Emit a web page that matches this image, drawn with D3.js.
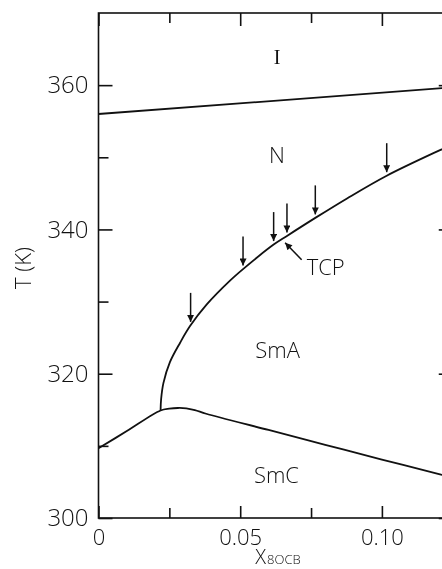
<!DOCTYPE html>
<html>
<head>
<meta charset="utf-8">
<script src="https://cdn.jsdelivr.net/npm/d3@7/dist/d3.min.js"></script>
<style>
  html, body { margin: 0; padding: 0; background: #fff; }
  svg { display: block; transform: translateZ(0); will-change: transform; }
  text { font-family: "Open Sans", "DejaVu Sans", sans-serif; font-weight: 300; fill: #111; }
</style>
</head>
<body>
<svg id="chart" width="442" height="569"></svg>
<script>
// Phase boundaries: temperature (K) against 8OCB mole fraction
const niX = [0, 0.125];
const niT = [356.0, 359.7];

const naX = [0.0219, 0.0221, 0.0229, 0.0252, 0.0288, 0.0323, 0.0382, 0.0464, 0.051, 0.0618, 0.0665, 0.0765, 0.0877, 0.1017, 0.1205, 0.125];
const naT = [314.9, 316.5, 318.7, 321.6, 324.3, 326.6, 329.6, 332.9, 334.5, 337.9, 339.1, 341.6, 344.3, 347.45, 351.0, 351.8];

const acX = [0, 0.01, 0.0219, 0.025, 0.028, 0.031, 0.034, 0.038, 0.06, 0.08, 0.10, 0.1205, 0.125];
const acT = [309.66, 312.05, 314.9, 315.15, 315.25, 315.2, 314.95, 314.45, 312.2, 310.15, 308.1, 306.05, 305.6];

// Measured compositions marked by arrows on the N–SmA boundary
const arrowX = [0.0325, 0.051, 0.0618, 0.0665, 0.0765, 0.1017];
const arrowT = [326.7, 334.5, 337.9, 339.1, 341.6, 347.45];

// Tricritical point
const tcpX = 0.0655;
const tcpT = 338.85;

// Phase labels
const phaseNames = ["I", "N", "SmA", "SmC"];
const phaseX = [0.063, 0.063, 0.0632, 0.0628];
const phaseT = [363.9, 350.3, 323.3, 305.9];

// Axis ticks
const xMajor = [0, 0.05, 0.10];
const xMajorLabels = ["0", "0.05", "0.10"];
const xMinor = [0.025, 0.075];
const yMajor = [300, 320, 340, 360];
const yMinor = [310, 330, 350];

const svg = d3.select("#chart");
const plotLeft = 98.5, plotRight = 452.75, plotTop = 13, plotBottom = 518;

const x = d3.scaleLinear().domain([0, 0.125]).range([plotLeft, plotRight]);
const y = d3.scaleLinear().domain([300, 370]).range([plotBottom, plotTop]);

const stroke = "#111";

// Frame
svg.append("rect")
  .attr("x", plotLeft).attr("y", plotTop)
  .attr("width", plotRight - plotLeft).attr("height", plotBottom - plotTop)
  .attr("fill", "none").attr("stroke", stroke).attr("stroke-width", 1.6);

function styleAxis(g) {
  g.select(".domain").remove();
  g.selectAll(".tick line").attr("stroke", stroke).attr("stroke-width", 1.6);
}

// Bottom axis with labels
svg.append("g").attr("transform", `translate(0,${plotBottom})`)
  .call(d3.axisBottom(x).tickValues(xMajor).tickFormat((d, i) => xMajorLabels[i])
    .tickSizeInner(-12).tickSizeOuter(0).tickPadding(11))
  .call(styleAxis)
  .call(g => g.selectAll("text").attr("font-size", 22).attr("font-family", null).attr("fill", "#111"));
svg.append("g").attr("transform", `translate(0,${plotBottom})`)
  .call(d3.axisBottom(x).tickValues(xMinor).tickFormat("").tickSizeInner(-10).tickSizeOuter(0))
  .call(styleAxis);

// Top axis
svg.append("g").attr("transform", `translate(0,${plotTop})`)
  .call(d3.axisTop(x).tickValues(xMajor).tickFormat("").tickSizeInner(-13).tickSizeOuter(0))
  .call(styleAxis);
svg.append("g").attr("transform", `translate(0,${plotTop})`)
  .call(d3.axisTop(x).tickValues(xMinor).tickFormat("").tickSizeInner(-10).tickSizeOuter(0))
  .call(styleAxis);

// Left axis with labels
svg.append("g").attr("transform", `translate(${plotLeft},0)`)
  .call(d3.axisLeft(y).tickValues(yMajor).tickFormat(d3.format("d"))
    .tickSizeInner(-14).tickSizeOuter(0).tickPadding(10))
  .call(styleAxis)
  .call(g => g.selectAll("text").attr("font-size", 24).attr("font-family", null).attr("fill", "#111"));
svg.append("g").attr("transform", `translate(${plotLeft},0)`)
  .call(d3.axisLeft(y).tickValues(yMinor).tickFormat("").tickSizeInner(-10).tickSizeOuter(0))
  .call(styleAxis);

// Right axis
svg.append("g").attr("transform", `translate(${plotRight},0)`)
  .call(d3.axisRight(y).tickValues(yMajor).tickFormat("").tickSizeInner(-14).tickSizeOuter(0))
  .call(styleAxis);
svg.append("g").attr("transform", `translate(${plotRight},0)`)
  .call(d3.axisRight(y).tickValues(yMinor).tickFormat("").tickSizeInner(-10).tickSizeOuter(0))
  .call(styleAxis);

// Boundaries
const line = d3.line().x(d => x(d[0])).y(d => y(d[1])).curve(d3.curveCatmullRom.alpha(0.5));
function boundary(xs, ts) {
  svg.append("path")
    .datum(xs.map((v, i) => [v, ts[i]]))
    .attr("d", line)
    .attr("fill", "none").attr("stroke", stroke).attr("stroke-width", 1.8);
}
boundary(niX, niT);
boundary(naX, naT);
boundary(acX, acT);

// Arrow head marker
const defs = svg.append("defs");
defs.append("marker")
  .attr("id", "head")
  .attr("viewBox", "0 0 10 10")
  .attr("refX", 10).attr("refY", 5)
  .attr("markerUnits", "userSpaceOnUse")
  .attr("markerWidth", 10).attr("markerHeight", 7)
  .attr("orient", "auto")
  .append("path").attr("d", "M0,0 L10,5 L0,10 Z").attr("fill", stroke);

// Measurement arrows pointing down onto the boundary
const gap = 3.5;
svg.append("g").selectAll("line")
  .data(arrowX.map((v, i) => [v, arrowT[i]]))
  .join("line")
  .attr("x1", d => x(d[0])).attr("x2", d => x(d[0]))
  .attr("y1", d => y(d[1]) - gap - 29).attr("y2", d => y(d[1]) - gap)
  .attr("stroke", stroke).attr("stroke-width", 1.5)
  .attr("marker-end", "url(#head)");

// TCP pointer
svg.append("line")
  .attr("x1", x(tcpX) + 17.5).attr("y1", y(tcpT) + 22)
  .attr("x2", x(tcpX) + 1).attr("y2", y(tcpT) + 5)
  .attr("stroke", stroke).attr("stroke-width", 1.5)
  .attr("marker-end", "url(#head)");
svg.append("text")
  .attr("x", x(tcpX) + 22.5).attr("y", y(tcpT) + 37)
  .attr("font-size", 22)
  .attr("fill", "#111")
  .text("TCP");

// Phase labels
svg.append("g").selectAll("text")
  .data(phaseNames)
  .join("text")
  .attr("x", (d, i) => x(phaseX[i]))
  .attr("y", (d, i) => y(phaseT[i]))
  .attr("text-anchor", "middle")
  .attr("dy", "0.36em")
  .attr("font-size", d => d === "I" ? 20 : 22)
  .attr("fill", "#111")
  .style("font-family", d => d === "I" ? "'Liberation Serif', serif" : null)
  .style("font-weight", d => d === "I" ? 400 : null)
  .text(d => d);

// Axis titles
svg.append("text")
  .attr("transform", `translate(31,268) rotate(-90)`)
  .attr("text-anchor", "middle")
  .attr("font-size", 22)
  .attr("fill", "#111")
  .text("T (K)");

const xt = svg.append("text")
  .attr("x", 278).attr("y", 563.5)
  .attr("text-anchor", "middle")
  .attr("font-size", 20)
  .attr("fill", "#111");
xt.append("tspan").text("X");
xt.append("tspan").attr("font-size", 13).attr("dx", 1).text("8OCB");
</script>
</body>
</html>
